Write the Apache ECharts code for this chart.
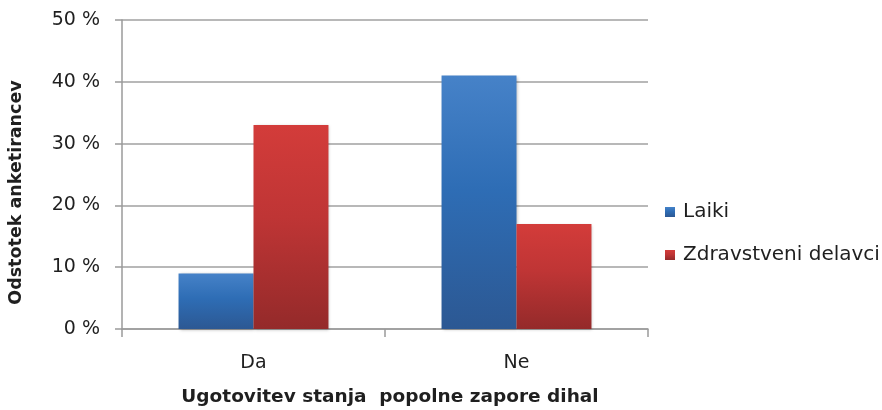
<!DOCTYPE html>
<html>
<head>
<meta charset="utf-8">
<script src="https://cdn.jsdelivr.net/npm/echarts@6/dist/echarts.min.js"></script>
<style>
  html, body { margin: 0; padding: 0; background: #fff; }
  #chart { width: 882px; height: 410px; }
</style>
</head>
<body>
<div id="chart"></div>
<script>
// Categories and answer shares (%) per respondent group
const categories = ['Da', 'Ne'];
const laiki = [9, 41];
const zdravstveniDelavci = [33, 17];
const seriesNames = ['Laiki', 'Zdravstveni delavci'];
const yTicks = { min: 0, max: 50, interval: 10 };

const FONT = '"DejaVu Sans", Verdana, sans-serif';
const TEXT = '#1f1f1f';
const AXIS = '#9a9a9a';

function grad(top, mid, bottom) {
  return new echarts.graphic.LinearGradient(0, 0, 0, 1, [
    { offset: 0, color: top },
    { offset: 0.45, color: mid },
    { offset: 1, color: bottom }
  ]);
}

const chart = echarts.init(document.getElementById('chart'));
chart.setOption({
  animation: false,
  backgroundColor: '#ffffff',
  grid: { left: 122, right: 234, top: 20, bottom: 81, containLabel: false, outerBoundsMode: 'none' },
  legend: {
    orient: 'vertical',
    left: 660,
    top: 197,
    itemWidth: 10,
    itemHeight: 10,
    itemGap: 23,
    icon: 'rect',
    textStyle: { fontFamily: FONT, fontSize: 20, color: TEXT, padding: [0, 0, 0, 3] },
    data: seriesNames
  },
  xAxis: {
    type: 'category',
    data: categories,
    name: 'Ugotovitev stanja  popolne zapore dihal',
    nameLocation: 'middle',
    nameGap: 59,
    nameTextStyle: { fontFamily: FONT, fontSize: 18.5, fontWeight: 'bold', color: TEXT, padding: [0, 0, 0, 10] },
    axisLine: { lineStyle: { color: AXIS, width: 1.5 } },
    axisTick: { show: true, length: 8, lineStyle: { color: AXIS, width: 1.5 } },
    axisLabel: { fontFamily: FONT, fontSize: 19, color: TEXT, margin: 25 }
  },
  yAxis: {
    type: 'value',
    min: yTicks.min,
    max: yTicks.max,
    interval: yTicks.interval,
    name: 'Odstotek anketirancev',
    nameLocation: 'middle',
    nameGap: 97,
    nameRotate: 90,
    nameTextStyle: { fontFamily: FONT, fontSize: 17.5, fontWeight: 'bold', color: TEXT, padding: [0, 36, 0, 0] },
    axisLine: { show: true, lineStyle: { color: AXIS, width: 1.5 } },
    axisTick: { show: true, length: 7, lineStyle: { color: AXIS, width: 1.5 } },
    axisLabel: { fontFamily: FONT, fontSize: 19, color: TEXT, margin: 22, formatter: '{value} %' },
    splitLine: { lineStyle: { color: '#a0a0a0', width: 1.5 } }
  },
  series: [
    {
      name: seriesNames[0],
      type: 'bar',
      data: laiki,
      barGap: '0%',
      barCategoryGap: '43%',
      itemStyle: {
        color: grad('#4682c8', '#2e6db5', '#2c5893'),
        shadowColor: 'rgba(0,0,0,0.25)', shadowBlur: 3, shadowOffsetX: 1, shadowOffsetY: 1
      }
    },
    {
      name: seriesNames[1],
      type: 'bar',
      data: zdravstveniDelavci,
      barGap: '0%',
      barCategoryGap: '43%',
      itemStyle: {
        color: grad('#d33c3a', '#bf3535', '#942a2a'),
        shadowColor: 'rgba(0,0,0,0.25)', shadowBlur: 3, shadowOffsetX: 1, shadowOffsetY: 1
      }
    }
  ]
});
</script>
</body>
</html>
